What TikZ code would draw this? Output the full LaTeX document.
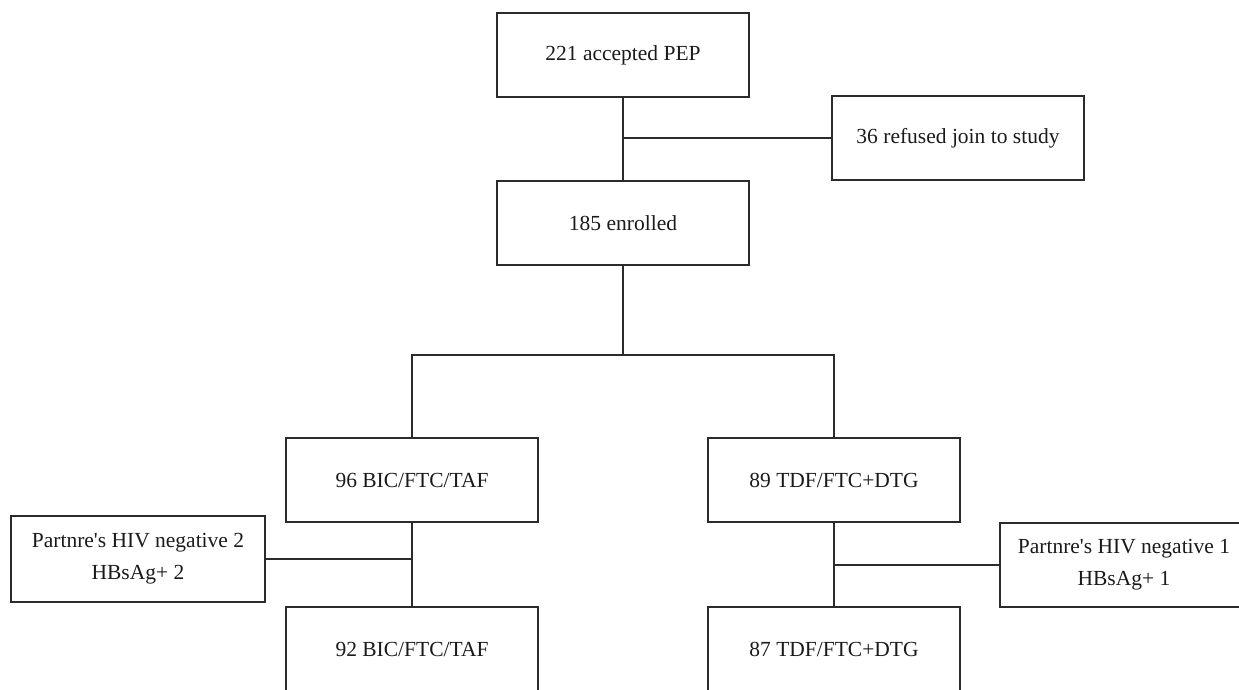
\documentclass[tikz,border=0pt]{standalone}
\usepackage{fontspec}
\setmainfont{Liberation Serif}
\definecolor{ln}{HTML}{2B2B2B}
\definecolor{tx}{HTML}{1A1A1A}
\begin{document}
\begin{tikzpicture}[x=1pt,y=1pt,
  box/.style={draw=ln,line width=2pt,rectangle,inner sep=0pt,align=center,text=tx,
    font=\fontsize{21.5}{32}\selectfont,minimum width=252pt,minimum height=84pt},
  conn/.style={draw=ln,line width=2pt}]
\useasboundingbox (0,0) rectangle (1239,-689);
\clip (0,0) rectangle (1239,-689);
\node[box] (A) at (623,-55) {221 accepted PEP};
\node[box] (R) at (958,-138) {36 refused join to study};
\node[box] (E) at (623,-223) {185 enrolled};
\node[box] (B1) at (412,-480) {96 BIC/FTC/TAF};
\node[box] (B2) at (834,-480) {89 TDF/FTC+DTG};
\node[box,minimum width=254pt,minimum height=86pt] (P1) at (138,-559) {Partnre\textquotesingle s HIV negative 2\\HBsAg+ 2};
\node[box,minimum width=248pt] (P2) at (1124,-565) {Partnre\textquotesingle s HIV negative 1\\HBsAg+ 1};
\node[box] (C1) at (412,-649) {92 BIC/FTC/TAF};
\node[box] (C2) at (834,-649) {87 TDF/FTC+DTG};
\coordinate (j1) at (A.south |- R.west);
\coordinate (sp) at (623,-355);
\coordinate (j2) at (B1.south |- P1.east);
\coordinate (j3) at (B2.south |- P2.west);
\draw[conn] (A.south) -- (E.north);
\draw[conn] (R.west) -- (j1);
\draw[conn] (E.south) -- (sp);
\draw[conn] (B1.north) |- (sp) -| (B2.north);
\draw[conn] (B1.south) -- (C1.north);
\draw[conn] (P1.east) -- (j2);
\draw[conn] (B2.south) -- (C2.north);
\draw[conn] (P2.west) -- (j3);
\end{tikzpicture}
\end{document}
